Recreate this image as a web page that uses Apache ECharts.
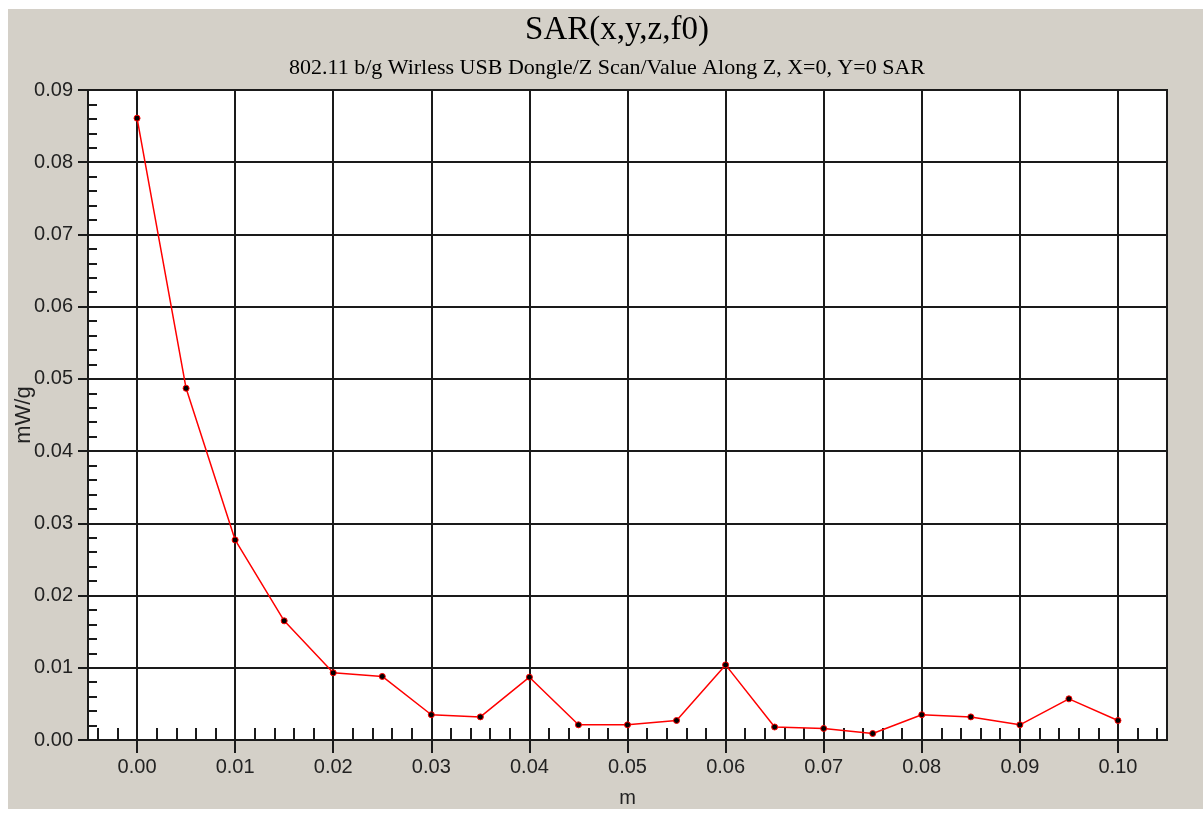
<!DOCTYPE html>
<html>
<head>
<meta charset="utf-8">
<script src="https://cdn.jsdelivr.net/npm/echarts@6/dist/echarts.min.js"></script>
<style>
html,body{margin:0;padding:0;background:#ffffff;width:1203px;height:813px;overflow:hidden;}
#chart{position:absolute;left:8px;top:9px;width:1195px;height:800px;}
</style>
</head>
<body>
<div id="chart"></div>
<script>
// ---- data ----
var titleText = 'SAR(x,y,z,f0)';
var subtitleText = '802.11 b/g Wirless USB Dongle/Z Scan/Value Along Z, X=0, Y=0 SAR';
var xName = 'm';
var yName = 'mW/g';
var zPos = [0.000,0.005,0.010,0.015,0.020,0.025,0.030,0.035,0.040,0.045,0.050,0.055,0.060,0.065,0.070,0.075,0.080,0.085,0.090,0.095,0.100];
var sarValues = [0.0861,0.0487,0.0277,0.0165,0.0093,0.0088,0.0035,0.0032,0.0087,0.0021,0.0021,0.0027,0.0104,0.0018,0.0016,0.0009,0.0035,0.0032,0.0021,0.0057,0.0027];
var xTickLabels = [0.00,0.01,0.02,0.03,0.04,0.05,0.06,0.07,0.08,0.09,0.10];
var yTickLabels = [0.00,0.01,0.02,0.03,0.04,0.05,0.06,0.07,0.08,0.09];
var xMin = -0.005, xMax = 0.105, yMin = 0, yMax = 0.09;
var xMinorTicks = [-0.004,-0.002,0,0.002,0.004,0.006,0.008,0.010,0.012,0.014,0.016,0.018,0.020,0.022,0.024,0.026,0.028,0.030,0.032,0.034,0.036,0.038,0.040,0.042,0.044,0.046,0.048,0.050,0.052,0.054,0.056,0.058,0.060,0.062,0.064,0.066,0.068,0.070,0.072,0.074,0.076,0.078,0.080,0.082,0.084,0.086,0.088,0.090,0.092,0.094,0.096,0.098,0.100,0.102,0.104];
var yMinorTicks = [0,0.002,0.004,0.006,0.008,0.010,0.012,0.014,0.016,0.018,0.020,0.022,0.024,0.026,0.028,0.030,0.032,0.034,0.036,0.038,0.040,0.042,0.044,0.046,0.048,0.050,0.052,0.054,0.056,0.058,0.060,0.062,0.064,0.066,0.068,0.070,0.072,0.074,0.076,0.078,0.080,0.082,0.084,0.086,0.088,0.090];

var seriesData = zPos.map(function(x,i){return [x, sarValues[i]];});

var chart = echarts.init(document.getElementById('chart'), null, {renderer:'canvas'});
var axisColor = '#1a1a1a';
var labelFont = {fontFamily:'Liberation Sans, Arial, sans-serif', fontSize:20, color:'#222'};

var option = {
  animation:false,
  backgroundColor:'#d4d0c8',
  title:[
    {text:titleText, left:609, top:5, padding:0, textAlign:'center',
     textStyle:{fontFamily:'Liberation Serif, Times New Roman, serif', fontSize:33, fontWeight:'normal', color:'#000'}},
    {text:subtitleText, left:599, top:48, padding:0, textAlign:'center',
     textStyle:{fontFamily:'Liberation Serif, Times New Roman, serif', fontSize:22, fontWeight:'normal', color:'#000'}}
  ],
  grid:{left:80, top:81, right:36, bottom:69, show:true, backgroundColor:'#ffffff', borderColor:axisColor, borderWidth:2, containLabel:false, outerBoundsMode:'none'},
  xAxis:[
    {type:'value', min:xMin, max:xMax, position:'bottom',
     name:xName, nameLocation:'middle', nameGap:48, nameMoveOverlap:false, nameTextStyle:labelFont,
     axisLine:{show:true, onZero:false, lineStyle:{color:axisColor, width:2}},
     axisTick:{show:true, inside:false, length:13, lineStyle:{color:axisColor, width:2}, customValues:xTickLabels},
     axisLabel:Object.assign({margin:17, customValues:xTickLabels, formatter:function(v){return v.toFixed(2);}}, labelFont),
     splitLine:{show:true, lineStyle:{color:axisColor, width:2}}
    },
    {type:'value', min:xMin, max:xMax, position:'bottom', offset:0,
     axisLine:{show:false, onZero:false},
     axisTick:{show:true, inside:true, length:12, lineStyle:{color:axisColor, width:2}, customValues:xMinorTicks},
     axisLabel:{show:false},
     splitLine:{show:false}
    }
  ],
  yAxis:[
    {type:'value', min:yMin, max:yMax, interval:0.01, position:'left',
     name:yName, nameLocation:'middle', nameGap:53, nameRotate:90, nameMoveOverlap:false,
     nameTextStyle:{fontFamily:'Liberation Sans, Arial, sans-serif', fontSize:22, color:'#222'},
     axisLine:{show:true, onZero:false, lineStyle:{color:axisColor, width:2}},
     axisTick:{show:true, inside:false, length:10, lineStyle:{color:axisColor, width:2}, customValues:yTickLabels},
     axisLabel:Object.assign({margin:15, customValues:yTickLabels, formatter:function(v){return v.toFixed(2);}}, labelFont),
     splitLine:{show:true, lineStyle:{color:axisColor, width:2}}
    },
    {type:'value', min:yMin, max:yMax, position:'left', offset:0,
     axisLine:{show:false, onZero:false},
     axisTick:{show:true, inside:true, length:9, lineStyle:{color:axisColor, width:2}, customValues:yMinorTicks},
     axisLabel:{show:false},
     splitLine:{show:false}
    }
  ],
  series:[
    {type:'line', xAxisIndex:0, yAxisIndex:0, data:seriesData,
     lineStyle:{color:'#ff0000', width:1.5},
     symbol:'circle', symbolSize:6,
     itemStyle:{color:'#000000', borderColor:'#ff0000', borderWidth:1},
     z:5}
  ]
};
chart.setOption(option);
</script>
</body>
</html>
